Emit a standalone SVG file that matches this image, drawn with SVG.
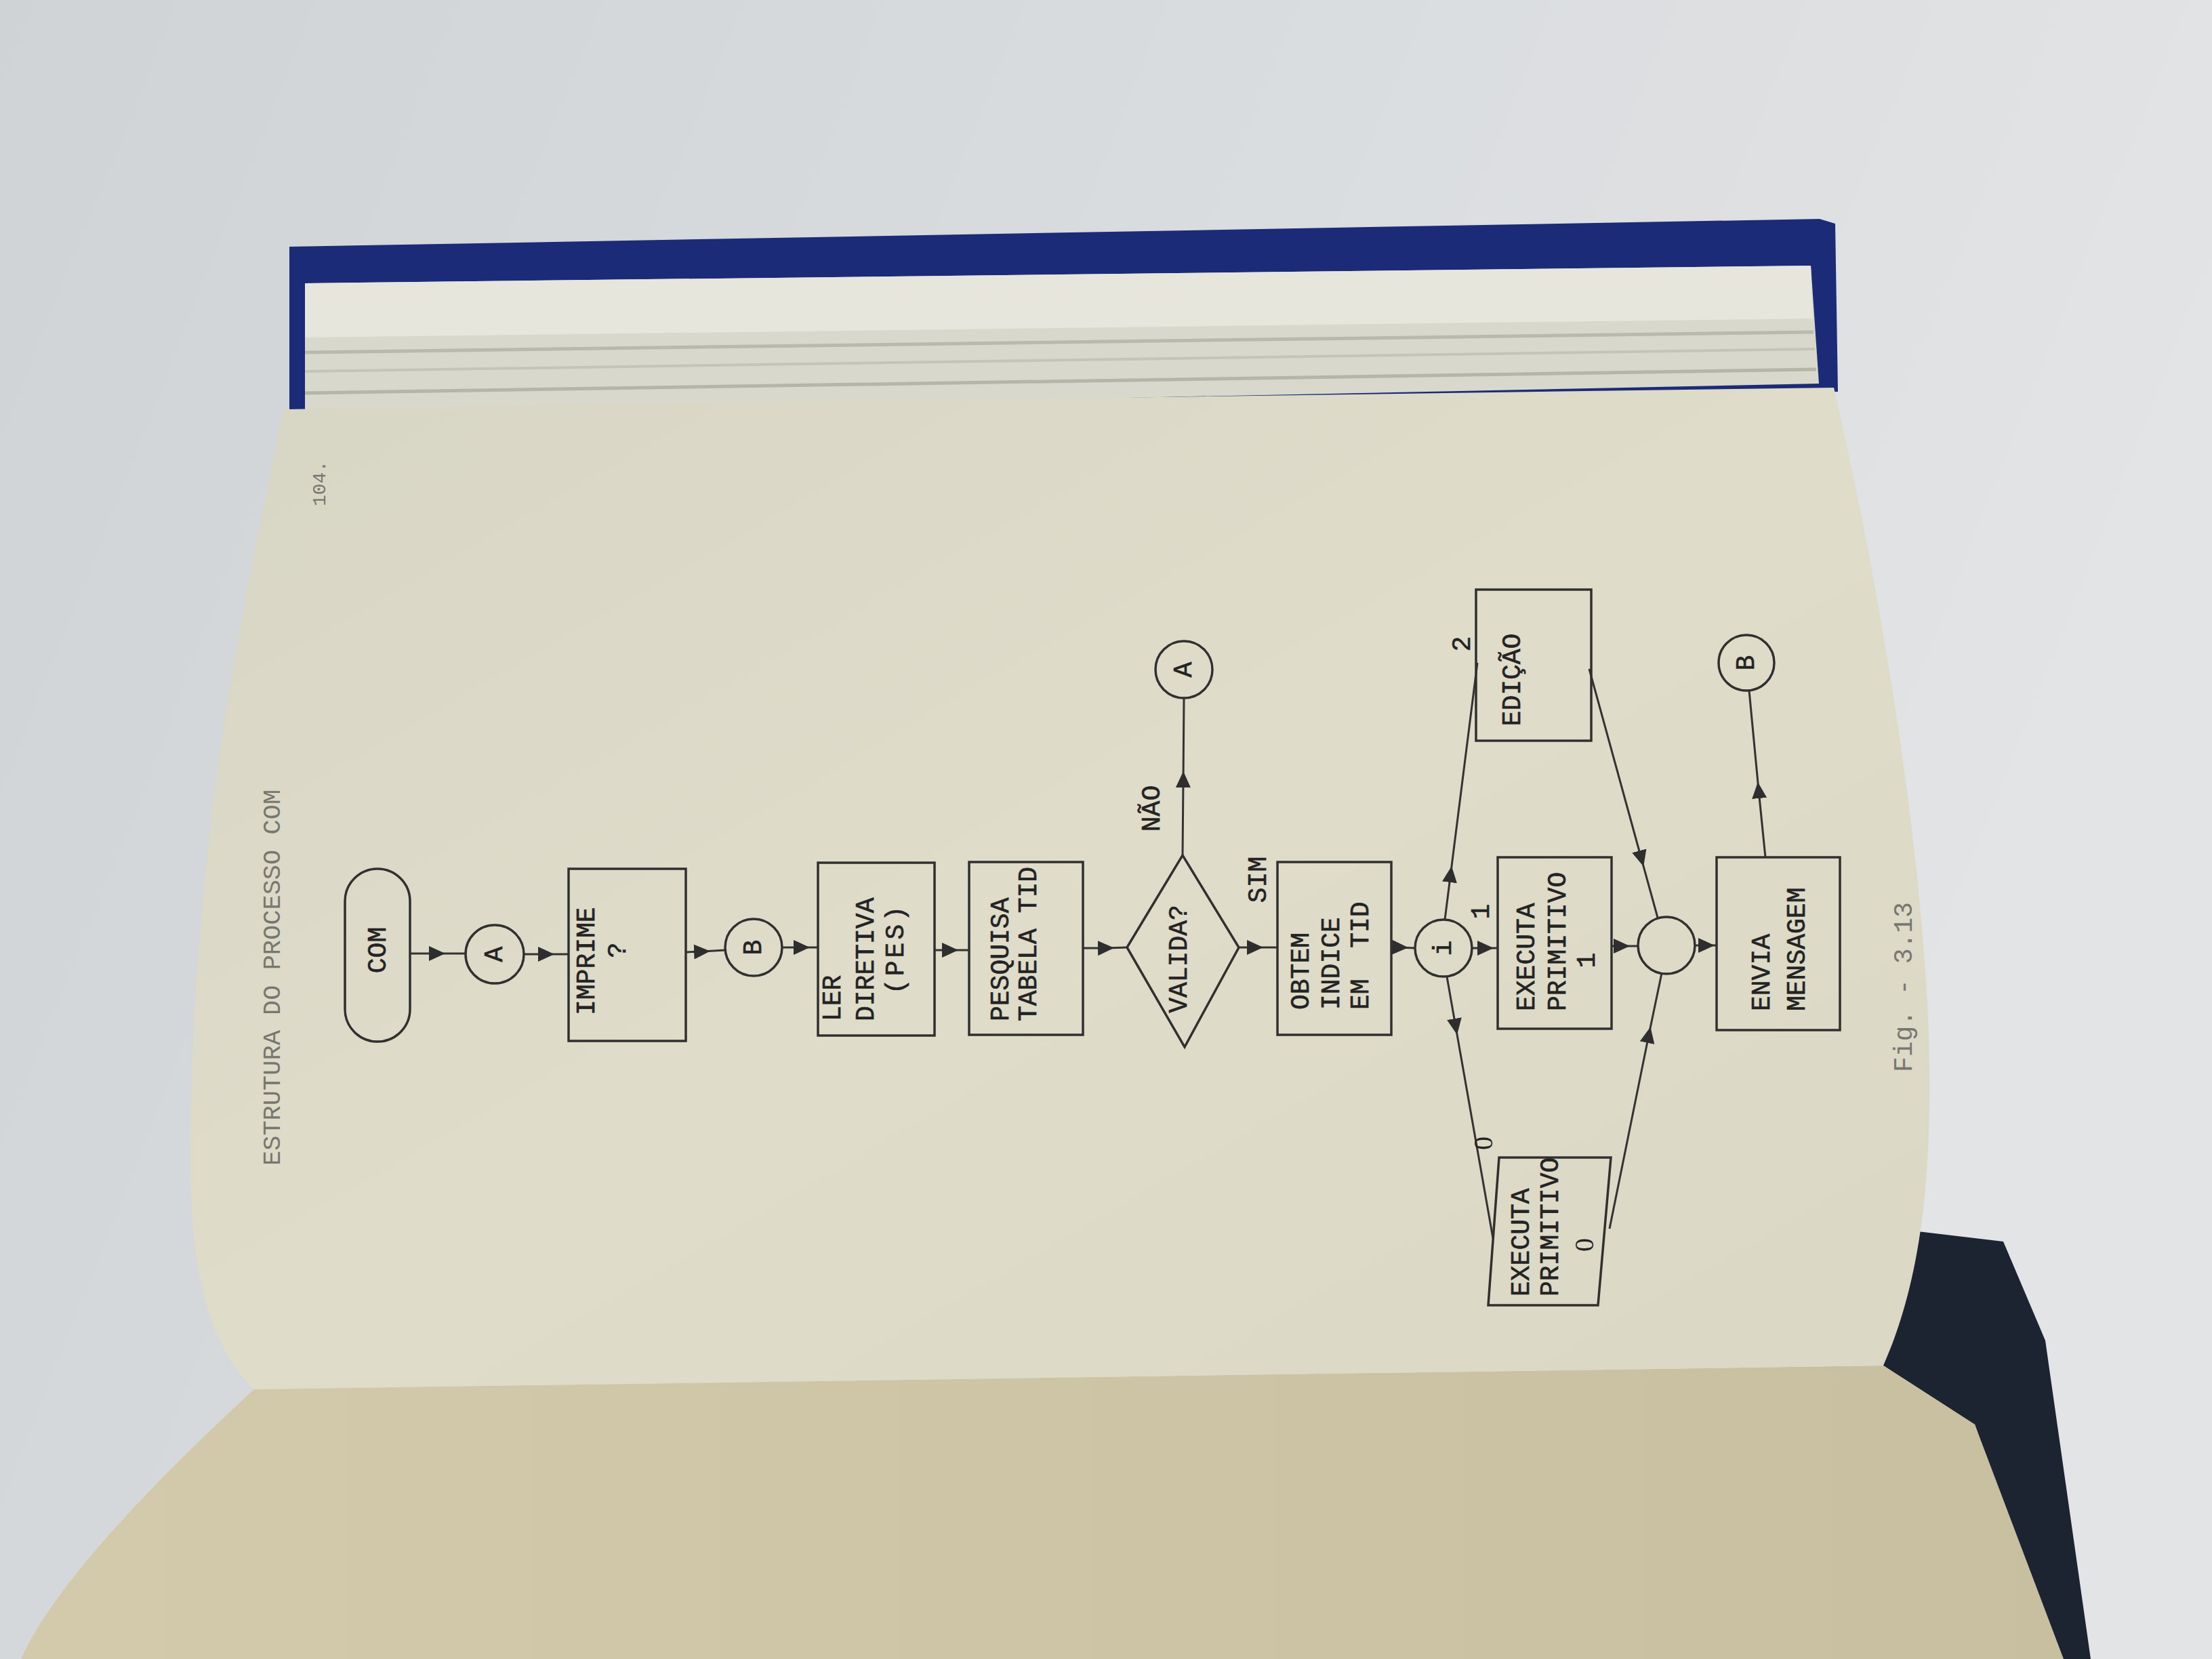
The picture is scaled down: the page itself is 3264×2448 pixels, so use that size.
<svg xmlns="http://www.w3.org/2000/svg" width="3264" height="2448" viewBox="0 0 3264 2448">
<defs>
<linearGradient id="bg" x1="0" y1="0" x2="1" y2="0.3">
<stop offset="0" stop-color="#cfd3d6"/>
<stop offset="1" stop-color="#e2e4e5"/>
</linearGradient>
<linearGradient id="pg" x1="0" y1="0" x2="1" y2="1">
<stop offset="0" stop-color="#d7d5c3"/>
<stop offset="0.5" stop-color="#dfdcca"/>
<stop offset="1" stop-color="#dad7c4"/>
</linearGradient>
<linearGradient id="lp" x1="0" y1="0" x2="1" y2="0">
<stop offset="0" stop-color="#d2caab"/>
<stop offset="1" stop-color="#c7bf9f"/>
</linearGradient>
<marker id="ah" markerUnits="userSpaceOnUse" markerWidth="24" markerHeight="22" refX="12" refY="11" orient="auto" viewBox="0 0 24 22">
<path d="M0,0 L24,11 L0,22 z" fill="#2e2e2e"/>
</marker>
<style>
.ln{fill:none;stroke:#333;stroke-width:3;marker-mid:url(#ah)}
.bx{fill:none;stroke:#303030;stroke-width:3.5}
.t{font-family:"Liberation Mono","DejaVu Sans Mono",monospace;font-size:38px;fill:#232323;stroke:#232323;stroke-width:0.6;dominant-baseline:central}
.z{font-family:"Liberation Serif",serif;font-size:40px;fill:#232323;dominant-baseline:central}
.f{font-family:"Liberation Mono","DejaVu Sans Mono",monospace;fill:#77776f;dominant-baseline:central}
</style>
</defs>

<!-- scene -->
<rect x="0" y="0" width="3264" height="2448" fill="url(#bg)"/>
<polygon points="427,364 2685,323 2708,330 2712,578 427,612" fill="#1c2b78"/>
<polygon points="450,418 2672,392 2684,566 450,612" fill="#d8d8cc"/>
<polygon points="450,418 2672,392 2675,470 450,498" fill="#e6e6dc"/>
<polyline points="450,520 2676,490" fill="none" stroke="#b9b9ad" stroke-width="5"/>
<polyline points="450,548 2678,515" fill="none" stroke="#c4c4b8" stroke-width="4"/>
<polyline points="450,580 2680,545" fill="none" stroke="#b5b5a8" stroke-width="5"/>
<polygon points="2779,1811 2956,1832 3018,1978 3085,2448 3035,2448 2914,2102 2779,2015" fill="#1d2431"/>
<path d="M375,2050 L2779,2015 L2914,2102 L3045,2448 L31,2448 C70,2360 180,2230 375,2050 z" fill="url(#lp)"/>
<path d="M418,604 L2706,572 C2770,850 2830,1200 2845,1500 C2855,1750 2830,1900 2779,2015 L375,2050 C300,1980 280,1850 281,1700 C282,1400 320,1100 360,900 C380,780 405,680 418,604 z" fill="url(#pg)"/>

<!-- page texts -->
<text class="f" font-size="37" transform="translate(403,1720) rotate(-90)">ESTRUTURA DO PROCESSO COM</text>
<text class="f" font-size="28" transform="translate(472,747) rotate(-90)">104.</text>
<text class="f" font-size="38" transform="translate(2810,1582) rotate(-90)">Fig. - 3.13</text>

<!-- connectors -->
<g id="connectors">
<path class="ln" d="M605,1407 L645,1407 L687,1407"/>
<path class="ln" d="M773,1408 L806,1408 L839,1408"/>
<path class="ln" d="M1012,1405 L1036,1404 L1070,1402"/>
<path class="ln" d="M1154,1398 L1183,1398 L1207,1398"/>
<path class="ln" d="M1379,1402 L1402,1402 L1430,1402"/>
<path class="ln" d="M1598,1399 L1632,1399 L1663,1398"/>
<path class="ln" d="M1745,1262 L1746,1150 L1747,1030"/>
<path class="ln" d="M1828,1398 L1852,1398 L1885,1398"/>
<path class="ln" d="M2053,1398 L2066,1398 L2088,1399"/>
<path class="ln" d="M2132,1357 L2140.5,1290 L2180,978"/>
<path class="ln" d="M2172,1399 L2192,1399 L2210,1399"/>
<path class="ln" d="M2135,1441 L2148,1515 L2203,1827"/>
<path class="ln" d="M2345,987 L2422,1267 L2446,1354"/>
<path class="ln" d="M2378,1396 L2393,1396 L2417,1396"/>
<path class="ln" d="M2375,1813 L2433,1527 L2452,1436"/>
<path class="ln" d="M2500,1395 L2518,1395 L2533,1395"/>
<path class="ln" d="M2605,1265 L2595,1166 L2581,1019"/>
<text class="t" transform="translate(1700,1193) rotate(-90)" text-anchor="middle">NÃO</text>
<text class="t" transform="translate(1857,1298) rotate(-90)" text-anchor="middle">SIM</text>
<text class="t" transform="translate(2186,1345) rotate(-90)" text-anchor="middle">1</text>
<text class="t" transform="translate(2158,950) rotate(-90)" text-anchor="middle">2</text>
<text class="z" transform="translate(2188,1687) rotate(-90)" text-anchor="middle">0</text>
</g>

<!-- nodes -->
<g id="n-com">
<rect class="bx" x="509" y="1282" width="96" height="255" rx="48"/>
<text class="t" transform="translate(558,1402) rotate(-90)" text-anchor="middle">COM</text>
</g>
<g id="n-a1">
<circle class="bx" cx="730" cy="1408" r="43"/>
<text class="t" transform="translate(730,1408) rotate(-90)" text-anchor="middle">A</text>
</g>
<g id="n-imprime">
<rect class="bx" x="839" y="1282" width="173" height="254"/>
<text class="t" transform="translate(866,1498) rotate(-90)">IMPRIME</text>
<text class="t" transform="translate(912,1402) rotate(-90)" text-anchor="middle">?</text>
</g>
<g id="n-b1">
<circle class="bx" cx="1112" cy="1398" r="42"/>
<text class="t" transform="translate(1112,1398) rotate(-90)" text-anchor="middle">B</text>
</g>
<g id="n-ler">
<rect class="bx" x="1207" y="1273" width="172" height="255"/>
<text class="t" transform="translate(1229,1507) rotate(-90)">LER</text>
<text class="t" transform="translate(1278,1507) rotate(-90)">DIRETIVA</text>
<text class="t" transform="translate(1322,1400) rotate(-90)" text-anchor="middle" letter-spacing="4">(PES)</text>
</g>
<g id="n-pesquisa">
<rect class="bx" x="1430" y="1272" width="168" height="255"/>
<text class="t" transform="translate(1477,1507) rotate(-90)">PESQUISA</text>
<text class="t" transform="translate(1518,1507) rotate(-90)">TABELA TID</text>
</g>
<g id="n-valida">
<polygon class="bx" points="1663,1398 1745,1262 1828,1398 1748,1545"/>
<text class="t" transform="translate(1740,1415) rotate(-90)" text-anchor="middle">VALIDA?</text>
</g>
<g id="n-a2">
<circle class="bx" cx="1747" cy="988" r="42"/>
<text class="t" transform="translate(1747,988) rotate(-90)" text-anchor="middle">A</text>
</g>
<g id="n-obtem">
<rect class="bx" x="1885" y="1272" width="168" height="255"/>
<text class="t" transform="translate(1920,1490) rotate(-90)">OBTEM</text>
<text class="t" transform="translate(1965,1490) rotate(-90)">INDICE</text>
<text class="t" transform="translate(2008,1490) rotate(-90)" xml:space="preserve">EM  TID</text>
</g>
<g id="n-i">
<circle class="bx" cx="2130" cy="1399" r="42"/>
<text class="t" transform="translate(2130,1399) rotate(-90)" text-anchor="middle">i</text>
</g>
<g id="n-edicao">
<rect class="bx" x="2178" y="870" width="170" height="223"/>
<text class="t" transform="translate(2232,1003) rotate(-90)" text-anchor="middle">EDIÇÃO</text>
</g>
<g id="n-exec1">
<rect class="bx" x="2210" y="1265" width="168" height="253"/>
<text class="t" transform="translate(2253,1492) rotate(-90)">EXECUTA</text>
<text class="t" transform="translate(2299,1492) rotate(-90)">PRIMITIVO</text>
<text class="t" transform="translate(2342,1417) rotate(-90)" text-anchor="middle">1</text>
</g>
<g id="n-exec0">
<polygon class="bx" points="2212,1708 2377,1708 2358,1926 2196,1926"/>
<text class="t" transform="translate(2245,1913) rotate(-90)">EXECUTA</text>
<text class="t" transform="translate(2288,1913) rotate(-90)">PRIMITIVO</text>
<text class="z" transform="translate(2337,1837) rotate(-90)" text-anchor="middle">0</text>
</g>
<g id="n-merge">
<circle class="bx" cx="2459" cy="1395" r="42"/>
</g>
<g id="n-envia">
<rect class="bx" x="2533" y="1265" width="182" height="255"/>
<text class="t" transform="translate(2600,1492) rotate(-90)">ENVIA</text>
<text class="t" transform="translate(2652,1492) rotate(-90)">MENSAGEM</text>
</g>
<g id="n-b2">
<circle class="bx" cx="2577" cy="978" r="41"/>
<text class="t" transform="translate(2577,978) rotate(-90)" text-anchor="middle">B</text>
</g>
</svg>
